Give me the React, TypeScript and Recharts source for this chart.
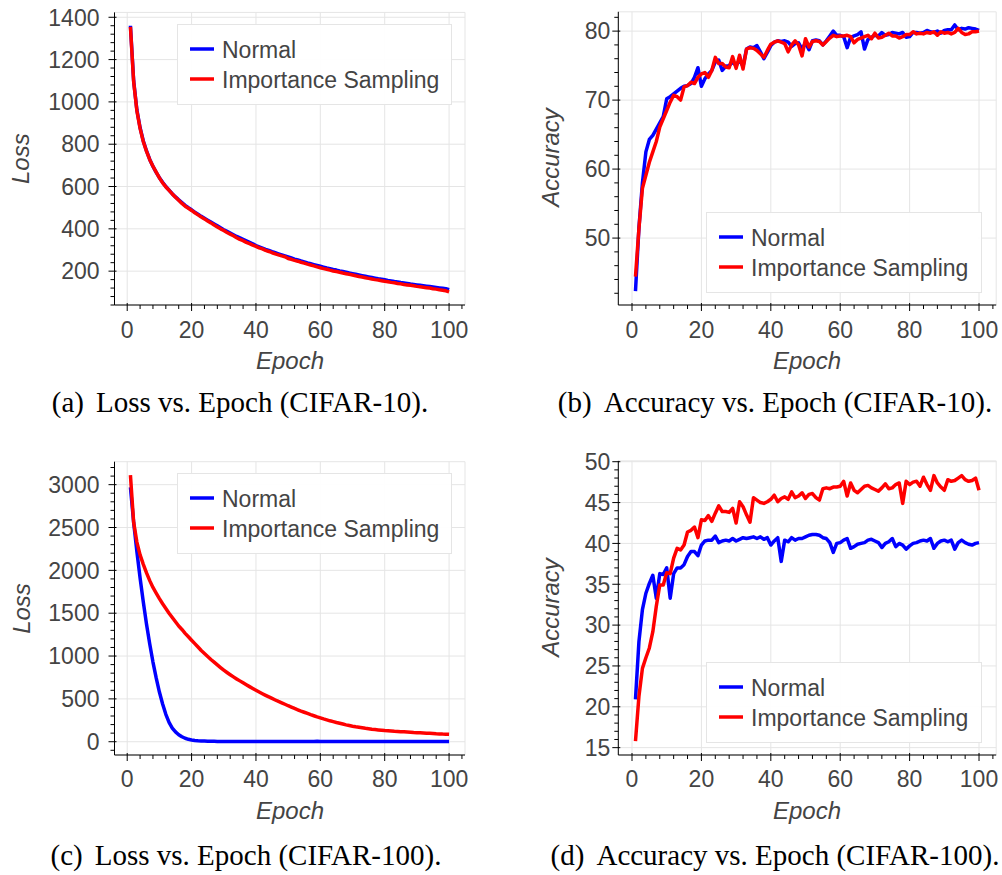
import React from 'react';
import { LineChart, Line, XAxis, YAxis, ReferenceLine, ReferenceArea, Legend } from 'recharts';

// ---------------- data ----------------
const EPOCHS = Array.from({ length: 100 }, (_, i) => i + 1);

const LOSS10_NORMAL = [
  1360, 1100, 962, 878, 815, 768, 728, 695, 667, 642,
  620, 600, 583, 566, 551, 537, 524, 511, 500, 490,
  479, 469, 459, 450, 441, 432, 423, 414, 405, 396,
  388, 380, 372, 364, 357, 350, 343, 336, 329, 321,
  315, 309, 303, 298, 292, 287, 282, 277, 272, 267,
  262, 257, 253, 248, 244, 239, 235, 231, 227, 223,
  219, 215, 212, 208, 205, 201, 198, 195, 191, 188,
  185, 182, 179, 176, 173, 170, 167, 164, 162, 159,
  156, 154, 151, 149, 146, 144, 142, 139, 137, 135,
  133, 131, 129, 127, 125, 123, 121, 119, 117, 112,
];
const LOSS10_IS = [
  1355, 1095, 958, 875, 812, 766, 727, 696, 668, 641,
  617, 598, 582, 565, 549, 535, 520, 507, 497, 487,
  476, 466, 456, 447, 437, 428, 418, 409, 400, 392,
  383, 375, 367, 358, 350, 344, 336, 330, 323, 317,
  310, 305, 298, 293, 287, 282, 277, 272, 268, 260,
  256, 251, 247, 242, 238, 233, 229, 225, 220, 216,
  212, 209, 205, 201, 198, 195, 191, 188, 185, 182,
  178, 175, 172, 169, 166, 163, 160, 158, 155, 152,
  150, 147, 145, 142, 140, 137, 135, 133, 131, 128,
  126, 124, 122, 120, 117, 115, 112, 110, 107, 102,
];
const ACC10_NORMAL = [
  42.3, 51.5, 58.0, 62.5, 64.3, 64.9, 65.8, 66.7, 67.6, 70.2,
  70.5, 70.9, 71.3, 71.7, 72.0, 72.1, 72.4, 73.3, 74.7, 72.0,
  73.1, 73.8, 74.3, 75.5, 75.8, 74.3, 74.9, 75.0, 75.5, 75.0,
  75.8, 74.9, 77.4, 77.7, 77.6, 77.9, 77.0, 76.0, 76.9, 77.9,
  78.4, 78.6, 78.5, 78.6, 78.4, 77.8, 78.2, 78.3, 77.4, 78.3,
  77.3, 78.6, 78.7, 78.6, 78.0, 78.6, 79.3, 80.0, 79.4, 79.4,
  79.2, 77.6, 79.1, 79.3, 79.5, 79.9, 77.4, 78.8, 79.1, 79.4,
  79.3, 79.8, 79.4, 79.5, 79.8, 79.7, 79.6, 79.8, 79.1, 79.2,
  79.8, 79.8, 79.7, 79.8, 80.1, 79.9, 79.8, 80.0, 79.7, 80.1,
  80.2, 80.2, 80.9, 80.2, 80.4, 80.3, 80.5, 80.4, 80.3, 80.1,
];
const ACC10_IS = [
  44.4, 51.4, 57.2, 59.1, 61.0, 62.5, 64.0, 66.1, 67.3, 68.5,
  69.7, 70.7, 70.5, 70.0, 71.9, 72.1, 72.6, 72.4, 73.3, 73.8,
  74.0, 73.3, 74.3, 76.2, 75.3, 75.3, 74.8, 74.7, 76.3, 74.6,
  76.5, 74.5, 77.4, 77.6, 77.5, 77.2, 76.7, 76.2, 77.2, 78.1,
  78.4, 78.6, 78.4, 78.2, 77.0, 78.0, 78.6, 78.0, 76.4, 78.9,
  77.7, 78.5, 78.6, 78.5, 78.0, 78.5, 79.0, 79.4, 79.2, 79.3,
  79.3, 79.4, 79.2, 78.3, 78.8, 79.0, 79.2, 79.4, 78.9, 79.7,
  79.0, 79.1, 79.4, 79.7, 79.3, 79.3, 79.0, 79.2, 79.5, 79.5,
  79.9, 79.6, 79.7, 79.6, 79.8, 79.7, 79.9, 79.4, 79.9, 79.7,
  79.8, 79.6, 79.8, 80.4, 79.8, 79.5, 79.6, 79.9, 79.9, 80.0,
];
const LOSS100_NORMAL = [
  2970, 2560, 2220, 1910, 1630, 1370, 1140, 930, 745, 580,
  440, 320, 225, 160, 115, 82, 58, 40, 28, 20,
  14, 10, 8, 7, 6, 5, 5, 4, 4, 4,
  4, 4, 3, 3, 3, 3, 3, 3, 3, 3,
  3, 3, 3, 4, 3, 3, 3, 3, 3, 3,
  3, 3, 3, 3, 3, 3, 3, 4, 5, 3,
  3, 3, 3, 3, 3, 3, 3, 3, 3, 3,
  3, 3, 3, 3, 3, 3, 3, 3, 3, 3,
  3, 3, 3, 3, 3, 3, 3, 3, 3, 3,
  3, 3, 3, 3, 3, 3, 3, 3, 3, 3,
];
const LOSS100_IS = [
  3110, 2560, 2330, 2180, 2070, 1970, 1880, 1800, 1735, 1670,
  1610, 1555, 1500, 1450, 1400, 1350, 1310, 1265, 1225, 1185,
  1145, 1105, 1065, 1030, 995, 960, 928, 896, 865, 835,
  808, 782, 757, 733, 710, 687, 665, 643, 621, 600,
  580, 560, 541, 523, 505, 487, 470, 454, 437, 420,
  404, 388, 373, 358, 344, 330, 316, 303, 290, 278,
  266, 255, 244, 234, 224, 215, 206, 197, 189, 181,
  174, 168, 162, 156, 151, 146, 142, 138, 134, 130,
  128, 125, 122, 120, 117, 115, 113, 111, 108, 106,
  104, 102, 100, 98, 96, 93, 91, 89, 88, 86,
];
const ACC100_NORMAL = [
  20.9, 28.0, 31.9, 33.9, 35.1, 36.1, 33.3, 36.3, 36.2, 37.0,
  33.3, 36.3, 37.0, 37.0, 37.4, 38.4, 39.0, 39.0, 38.5, 39.8,
  40.3, 40.4, 40.4, 40.9, 40.1, 40.3, 40.4, 40.3, 40.6, 40.3,
  40.5, 40.7, 40.6, 40.7, 40.8, 40.6, 40.8, 40.5, 40.7, 39.8,
  40.3, 40.7, 37.8, 40.4, 40.2, 40.7, 40.4, 40.6, 40.6, 40.8,
  41.0, 41.1, 41.1, 41.0, 40.7, 40.6, 40.1, 38.9, 40.0, 40.1,
  40.4, 40.6, 39.4, 39.6, 39.9, 40.0, 40.1, 40.4, 40.5, 40.3,
  40.1, 39.5, 40.0, 40.2, 40.6, 39.6, 40.0, 39.8, 39.3, 39.7,
  40.0, 40.1, 40.3, 40.4, 40.3, 40.6, 39.4, 40.0, 40.3, 40.4,
  40.2, 40.4, 39.3, 40.1, 40.4, 40.1, 39.9, 39.8, 40.0, 40.1,
];
const ACC100_IS = [
  15.8, 21.3, 24.7, 26.0, 27.2, 29.2, 32.3, 34.9, 34.9, 36.4,
  36.3, 38.2, 39.4, 39.2, 39.8, 41.4, 41.6, 42.0, 40.7, 42.9,
  42.8, 43.4, 42.7, 43.7, 44.6, 43.9, 43.9, 43.8, 44.3, 42.5,
  45.1, 44.5, 43.5, 42.6, 45.6, 45.3, 45.0, 44.9, 45.1, 45.4,
  45.9, 45.1, 45.5, 45.7, 45.4, 46.3, 45.6, 45.8, 46.2, 45.5,
  46.0, 46.1, 45.6, 45.3, 46.7, 46.8, 46.7, 46.9, 46.9, 47.0,
  47.6, 45.8, 47.4, 46.5, 46.2, 46.6, 47.0, 47.1, 46.8, 46.6,
  46.4, 46.8, 47.3, 46.7, 46.8, 47.2, 47.4, 44.9, 47.6, 47.2,
  47.5, 47.6, 47.0, 48.1, 47.2, 46.5, 48.3, 47.4, 46.9, 46.5,
  47.8, 47.6, 47.7, 48.0, 48.3, 47.8, 47.6, 47.7, 48.0, 46.5,
];

const SERIES_NAMES = ['Normal', 'Importance Sampling'];
const SERIES_COLORS = ['#0000ff', '#ff0000'];

const X_MAJOR = [0, 20, 40, 60, 80, 100];
const X_DOMAIN: [number, number] = [-3.95, 104.95];

const Y_MAJOR_A = [200, 400, 600, 800, 1000, 1200, 1400];
const Y_MAJOR_B = [50, 60, 70, 80];
const Y_MAJOR_C = [0, 500, 1000, 1500, 2000, 2500, 3000];
const Y_MAJOR_D = [15, 20, 25, 30, 35, 40, 45, 50];

const CAPTIONS = [
  ['(a)', 'Loss vs. Epoch (CIFAR-10).'],
  ['(b)', 'Accuracy vs. Epoch (CIFAR-10).'],
  ['(c)', 'Loss vs. Epoch (CIFAR-100).'],
  ['(d)', 'Accuracy vs. Epoch (CIFAR-100).'],
];

// ---------------- helpers ----------------
const W = 1002;
const H = 875;
const SANS = '"Liberation Sans", Arial, Helvetica, sans-serif';
const SERIF = '"Liberation Serif", "Times New Roman", serif';
const TEXT = '#444444';
const GRID = '#e5e5e5';

function buildRows(a: number[], b: number[]) {
  return EPOCHS.map((e, i) => ({ epoch: e, normal: a[i], is: b[i] }));
}

function stepTicks(lo: number, hi: number, step: number) {
  const out: number[] = [];
  for (let k = Math.ceil(lo / step); k * step <= hi + 1e-9; k++) {
    out.push(Math.round(k * step * 1000) / 1000);
  }
  return out;
}

type Cfg = {
  rows: { epoch: number; normal: number; is: number }[];
  yDomain: [number, number];
  yMajor: number[];
  yMinorStep: number;
  plot: { x0: number; x1: number; y0: number; y1: number };
  legend: { left: number; top: number; width: number; height: number };
  yLabelGap: number;
  xLabelBase: number;
};

const renderLegend = (box: Cfg['legend']) => (props: any) => {
  const raw = ((props && props.payload) || []).slice();
  raw.sort((a: any, b: any) => SERIES_NAMES.indexOf(a.value) - SERIES_NAMES.indexOf(b.value));
  return (
    <div
      style={{
        width: box.width,
        height: box.height,
        boxSizing: 'border-box',
        border: `1px solid ${GRID}`,
        background: 'rgba(255,255,255,0.95)',
        position: 'relative',
        fontFamily: SANS,
        fontSize: 23,
        color: TEXT,
      }}
    >
      {raw.map((it: any, i: number) => (
        <div
          key={i}
          style={{
            position: 'absolute',
            left: 11,
            top: 24 + i * 30 - 15,
            height: 30,
            display: 'flex',
            alignItems: 'center',
            whiteSpace: 'nowrap',
          }}
        >
          <svg width={26} height={30} style={{ display: 'block' }}>
            <line x1={1} x2={25} y1={15} y2={15} stroke={it.color} strokeWidth={3.5} />
          </svg>
          <span style={{ marginLeft: 7, lineHeight: '30px', position: 'relative', top: 1 }}>{it.value}</span>
        </div>
      ))}
    </div>
  );
};

function Panel({ cfg }: { cfg: Cfg }) {
  const { plot } = cfg;
  const margin = {
    left: plot.x0 - 60,
    right: W - plot.x1,
    top: plot.y0,
    bottom: H - plot.y1 - 30,
  };
  const xTicks = stepTicks(X_DOMAIN[0], X_DOMAIN[1], 4);
  const yTicks = stepTicks(cfg.yDomain[0], cfg.yDomain[1], cfg.yMinorStep);
  const majorY = new Set(cfg.yMajor);
  const majorX = new Set(X_MAJOR);

  const yTick = (p: any) => {
    const v = p.payload.value;
    const big = majorY.has(v);
    return (
      <g>
        <line x1={p.x - (big ? 6 : 4)} x2={p.x + (big ? 2 : 0)} y1={p.y} y2={p.y} stroke="#000" strokeWidth={1} />
        {big && (
          <text x={p.x - cfg.yLabelGap} y={p.y} dy="0.36em" textAnchor="end" fontFamily={SANS} fontSize={23} fill={TEXT}>
            {v}
          </text>
        )}
      </g>
    );
  };
  const xTick = (p: any) => {
    const v = p.payload.value;
    const big = majorX.has(v);
    return (
      <g>
        <line x1={p.x} x2={p.x} y1={p.y - (big ? 2 : 0)} y2={p.y + (big ? 6 : 4)} stroke="#000" strokeWidth={1} />
        {big && (
          <text x={p.x} y={cfg.xLabelBase} textAnchor="middle" fontFamily={SANS} fontSize={23} fill={TEXT}>
            {v}
          </text>
        )}
      </g>
    );
  };

  return (
    <div style={{ position: 'absolute', left: 0, top: 0 }}>
      <LineChart width={W} height={H} data={cfg.rows} margin={margin}>
        {cfg.yMajor.map((v) => (
          <ReferenceLine key={'h' + v} y={v} stroke={GRID} strokeWidth={1} />
        ))}
        {X_MAJOR.map((v) => (
          <ReferenceLine key={'v' + v} x={v} stroke={GRID} strokeWidth={1} />
        ))}
        <ReferenceArea
          x1={X_DOMAIN[0]}
          x2={X_DOMAIN[1]}
          y1={cfg.yDomain[0]}
          y2={cfg.yDomain[1]}
          fill="none"
          fillOpacity={0}
          stroke={GRID}
          strokeWidth={1}
        />
        <XAxis
          type="number"
          dataKey="epoch"
          domain={X_DOMAIN}
          allowDataOverflow
          ticks={xTicks}
          interval={0}
          tickLine={false}
          tickSize={0}
          tickMargin={0}
          height={30}
          axisLine={{ stroke: '#000', strokeWidth: 1 }}
          tick={xTick}
        />
        <YAxis
          type="number"
          domain={cfg.yDomain}
          allowDataOverflow
          ticks={yTicks}
          interval={0}
          tickLine={false}
          tickSize={0}
          tickMargin={0}
          width={60}
          axisLine={{ stroke: '#000', strokeWidth: 1 }}
          tick={yTick}
        />
        <Line
          type="linear"
          dataKey="normal"
          name={SERIES_NAMES[0]}
          stroke={SERIES_COLORS[0]}
          strokeWidth={3.5}
          strokeLinejoin="round"
          dot={false}
          activeDot={false}
          isAnimationActive={false}
        />
        <Line
          type="linear"
          dataKey="is"
          name={SERIES_NAMES[1]}
          stroke={SERIES_COLORS[1]}
          strokeWidth={3.5}
          strokeLinejoin="round"
          dot={false}
          activeDot={false}
          isAnimationActive={false}
        />
        <Legend
          layout="vertical"
          align="center"
          verticalAlign="middle"
          wrapperStyle={{
            position: 'absolute',
            left: cfg.legend.left,
            top: cfg.legend.top,
            width: cfg.legend.width,
            height: cfg.legend.height,
            margin: 0,
            padding: 0,
          }}
          content={renderLegend(cfg.legend)}
        />
      </LineChart>
    </div>
  );
}

const PANELS: Cfg[] = [
  {
    rows: buildRows(LOSS10_NORMAL, LOSS10_IS),
    yDomain: [40, 1423],
    yMajor: Y_MAJOR_A,
    yMinorStep: 40,
    plot: { x0: 114.5, x1: 465, y0: 12.4, y1: 305 },
    legend: { left: 177, top: 24, width: 275, height: 81 },
    yLabelGap: 15,
    xLabelBase: 338,
  },
  {
    rows: buildRows(ACC10_NORMAL, ACC10_IS),
    yDomain: [40.3, 82.8],
    yMajor: Y_MAJOR_B,
    yMinorStep: 2,
    plot: { x0: 618.3, x1: 996.2, y0: 11.8, y1: 305 },
    legend: { left: 706, top: 212, width: 276, height: 81 },
    yLabelGap: 8,
    xLabelBase: 338,
  },
  {
    rows: buildRows(LOSS100_NORMAL, LOSS100_IS),
    yDomain: [-155, 3268],
    yMajor: Y_MAJOR_C,
    yMinorStep: 100,
    plot: { x0: 114.5, x1: 465, y0: 461.7, y1: 755 },
    legend: { left: 177, top: 473, width: 275, height: 81 },
    yLabelGap: 15,
    xLabelBase: 786.5,
  },
  {
    rows: buildRows(ACC100_NORMAL, ACC100_IS),
    yDomain: [14.1, 50.1],
    yMajor: Y_MAJOR_D,
    yMinorStep: 1,
    plot: { x0: 618.3, x1: 996.2, y0: 460.9, y1: 755 },
    legend: { left: 706, top: 662, width: 276, height: 81 },
    yLabelGap: 8,
    xLabelBase: 786.5,
  },
];

const Y_LABELS = ['Loss', 'Accuracy', 'Loss', 'Accuracy'];

function Overlay() {
  const yLab = [
    { x: 29.5, y: 158.7 },
    { x: 559, y: 157.5 },
    { x: 29.5, y: 608.5 },
    { x: 559, y: 607.5 },
  ];
  const xLab = [
    { x: 290, y: 369 },
    { x: 807, y: 369 },
    { x: 290, y: 819 },
    { x: 807, y: 819 },
  ];
  const cap = [
    { x: 240, y: 412 },
    { x: 775, y: 412 },
    { x: 246, y: 865 },
    { x: 775, y: 865 },
  ];
  return (
    <svg width={W} height={H} style={{ position: 'absolute', left: 0, top: 0, pointerEvents: 'none' }}>
      {yLab.map((p, i) => (
        <text
          key={'yl' + i}
          x={p.x}
          y={p.y}
          textAnchor="middle"
          transform={`rotate(-90, ${p.x}, ${p.y})`}
          fontFamily={SANS}
          fontStyle="italic"
          fontSize={24}
          fill={TEXT}
        >
          {Y_LABELS[i]}
        </text>
      ))}
      {xLab.map((p, i) => (
        <text key={'xl' + i} x={p.x} y={p.y} textAnchor="middle" fontFamily={SANS} fontStyle="italic" fontSize={24} fill={TEXT}>
          Epoch
        </text>
      ))}
      {cap.map((p, i) => (
        <text key={'c' + i} x={p.x} y={p.y} textAnchor="middle" fontFamily={SERIF} fontSize={29} fill="#000">
          {CAPTIONS[i][0]}
          <tspan dx={12}>{CAPTIONS[i][1]}</tspan>
        </text>
      ))}
    </svg>
  );
}

export default function App() {
  return (
    <div style={{ position: 'absolute', left: 0, top: 0, width: W, height: H, background: '#fff', overflow: 'hidden' }}>
      {PANELS.map((cfg, i) => (
        <Panel key={i} cfg={cfg} />
      ))}
      <Overlay />
    </div>
  );
}
